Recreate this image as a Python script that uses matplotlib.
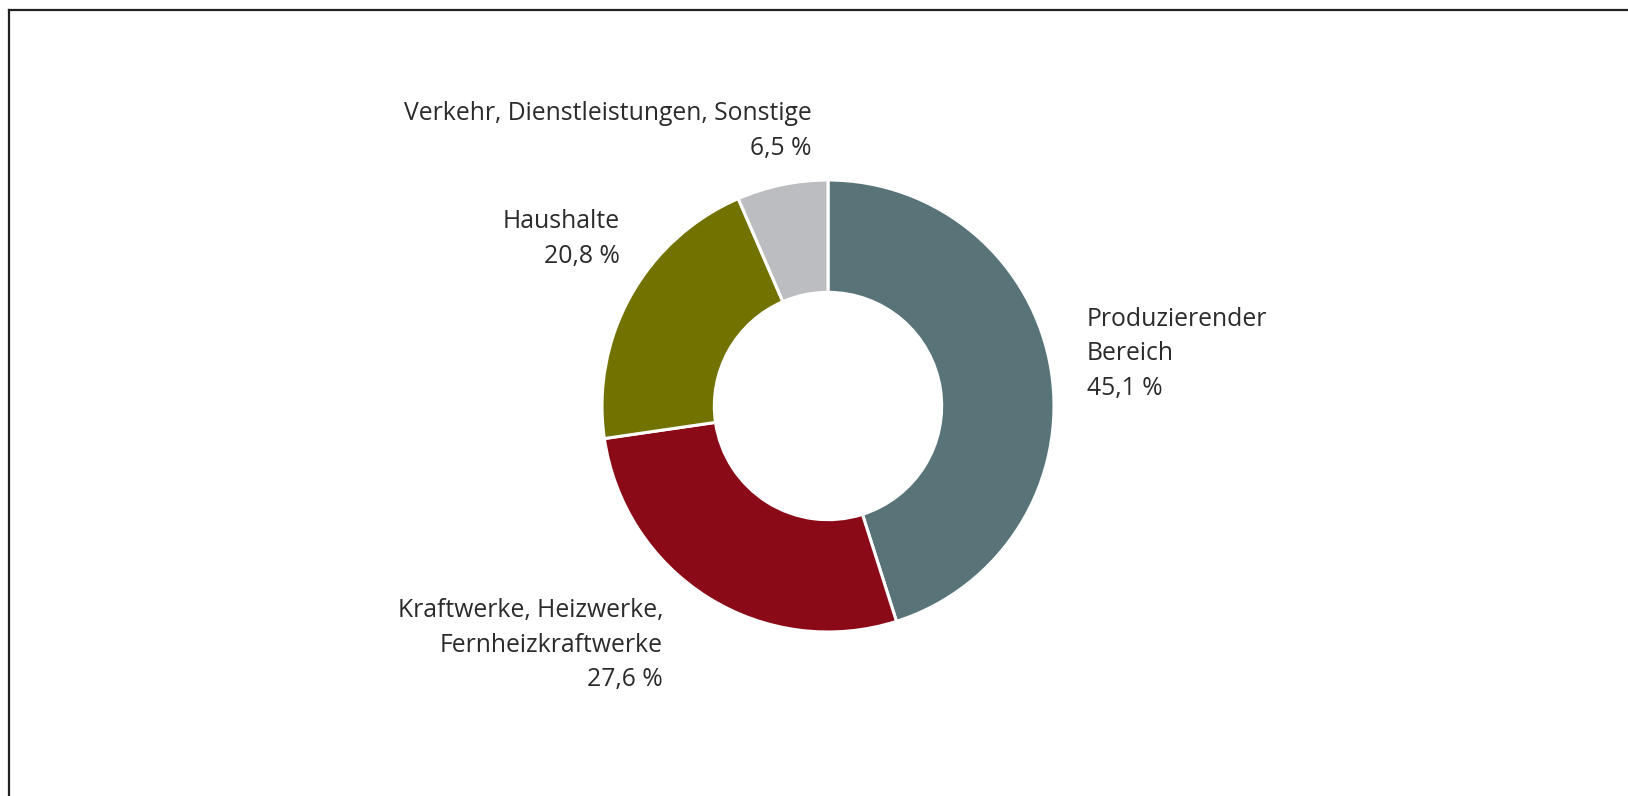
import matplotlib
matplotlib.use("Agg")
import matplotlib.pyplot as plt
from matplotlib.lines import Line2D

W, H = 1628, 796

# Data
labels = ["Produzierender\nBereich", "Kraftwerke, Heizwerke,\nFernheizkraftwerke",
          "Haushalte", "Verkehr, Dienstleistungen, Sonstige"]
shares = [45.1, 27.6, 20.8, 6.5]
share_text = ["45,1 %", "27,6 %", "20,8 %", "6,5 %"]
colors = ["#587478", "#8A0A17", "#727200", "#BCBDC0"]

plt.rcParams["font.family"] = ["Open Sans", "DejaVu Sans"]
TXT = "#2B2B2B"

fig = plt.figure(figsize=(W / 100, H / 100), dpi=100)
fig.patch.set_facecolor("white")
ax = fig.add_axes([0, 0, 1, 1])

# Donut (pixel coordinates, y up)
cx, cy, r = 828, H - 406, 226
ax.pie(shares, colors=colors, startangle=90, counterclock=False,
       center=(cx, cy), radius=r, frame=True,
       wedgeprops=dict(width=r * 0.497, edgecolor="white", linewidth=2.2))
ax.set_xlim(0, W)
ax.set_ylim(0, H)
ax.set_aspect("equal")
ax.axis("off")

# Labels (positions in image pixels, y from top, block centre)
fs = 17.85
def put(x, y, s, ha):
    ax.text(x, H - y, s, ha=ha, va="center", fontsize=fs, color=TXT,
            linespacing=1.48)

put(1087, 354, labels[0] + "\n" + share_text[0], "left")
put(663, 645, labels[1] + "\n" + share_text[1], "right")
put(620, 239, labels[2] + "\n" + share_text[2], "right")
put(812, 131, labels[3] + "\n" + share_text[3], "right")

# Frame (left and top only)
fig.add_artist(Line2D([8.5 / W, 8.5 / W], [0, 1 - 9.5 / H], transform=fig.transFigure,
                      color="#222222", linewidth=1.6))
fig.add_artist(Line2D([8.5 / W, 1], [1 - 10 / H, 1 - 10 / H], transform=fig.transFigure,
                      color="#222222", linewidth=1.6))

plt.savefig("out.png", dpi=100, facecolor=fig.get_facecolor())
plt.close()
